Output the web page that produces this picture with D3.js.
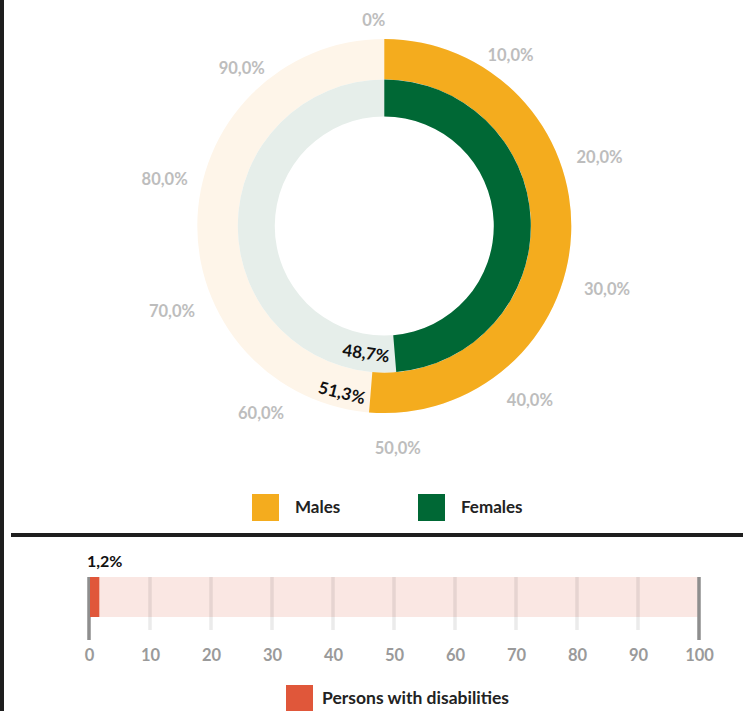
<!DOCTYPE html>
<html>
<head>
<meta charset="utf-8">
<script src="https://cdn.jsdelivr.net/npm/d3@7/dist/d3.min.js"></script>
<style>
  html, body { margin: 0; padding: 0; background: #fff; }
  svg { display: block; }
  text { font-family: Lato, "Open Sans", sans-serif; font-weight: 700; font-style: normal; }
</style>
</head>
<body>
<svg id="chart" width="748" height="711"></svg>
<script>
// ---------- data ----------
const ringSeries = ["Males", "Females"];
const ringValues = [51.3, 48.7];
const ringLabels = ["51,3%", "48,7%"];
const ringColors = ["#F4AC1E", "#006835"];
const ringTrackColors = ["#FEF5E9", "#E6EEEA"];
const angleTicks = [0, 10, 20, 30, 40, 50, 60, 70, 80, 90];
const angleTickLabels = ["0%", "10,0%", "20,0%", "30,0%", "40,0%", "50,0%", "60,0%", "70,0%", "80,0%", "90,0%"];

const barSeries = ["Persons with disabilities"];
const barValues = [1.2];
const barLabels = ["1,2%"];
const barColor = "#E0573A";
const barTrackColor = "#FAE7E3";
const barTicks = [0, 10, 20, 30, 40, 50, 60, 70, 80, 90, 100];
const barTickLabels = ["0", "10", "20", "30", "40", "50", "60", "70", "80", "90", "100"];

// ---------- setup ----------
const svg = d3.select("#chart");

// frame lines
svg.append("rect").attr("x", 0).attr("y", 0).attr("width", 4).attr("height", 711).attr("fill", "#1e1e1e");
svg.append("rect").attr("x", 11).attr("y", 533).attr("width", 732).attr("height", 4).attr("fill", "#1e1e1e");

// ---------- donut ----------
const cx = 384.3, cy = 226;
const rings = [
  { inner: 146.5, outer: 187 },
  { inner: 109.5, outer: 146.5 }
];
const angle = d3.scaleLinear().domain([0, 100]).range([0, 2 * Math.PI]);
const g = svg.append("g").attr("transform", `translate(${cx},${cy})`);

ringValues.forEach((v, i) => {
  const arc = d3.arc().innerRadius(rings[i].inner).outerRadius(rings[i].outer);
  g.append("path")
    .attr("d", arc({ startAngle: 0, endAngle: 2 * Math.PI }))
    .attr("fill", ringTrackColors[i]);
  g.append("path")
    .attr("d", arc({ startAngle: 0, endAngle: angle(v) }))
    .attr("fill", ringColors[i]);
});

// value labels, placed just past arc end, rotated along tangent
ringValues.forEach((v, i) => {
  const rMid = (i === 0 ? rings[i].inner + (rings[i].outer - rings[i].inner) * 0.62 : (rings[i].inner + rings[i].outer) / 2);
  const t = g.append("text")
    .attr("text-anchor", "middle")
    .attr("dominant-baseline", "central")
    .attr("font-size", 17)
    .attr("fill", "#111")
    .text(ringLabels[i]);
  const w = t.node().getComputedTextLength();
  const a = angle(v) + (w / 2 + 5) / rMid;
  const x = rMid * Math.sin(a), y = -rMid * Math.cos(a);
  const deg = a * 180 / Math.PI - 180;
  t.attr("transform", `translate(${x},${y}) rotate(${deg})`);
});

// angular tick labels (placed on a slightly flattened, lowered label ring)
const labelRx = 229, labelRy = 214, labelDy = 8, labelDx = 1.5, labelShift = 3 * Math.PI / 180;
angleTicks.forEach((tv, i) => {
  const a = angle(tv) - labelShift;
  g.append("text")
    .attr("text-anchor", "middle")
    .attr("dominant-baseline", "central")
    .attr("font-size", 16.5)
    .attr("fill", "#BDBDBD")
    .attr("x", labelDx + labelRx * Math.sin(a))
    .attr("y", labelDy - labelRy * Math.cos(a))
    .text(angleTickLabels[i]);
});

// ring legend
const legend1 = [{ x: 252, name: ringSeries[0], color: ringColors[0] }, { x: 418, name: ringSeries[1], color: ringColors[1] }];
legend1.forEach(l => {
  svg.append("rect").attr("x", l.x).attr("y", 494).attr("width", 27).attr("height", 27).attr("fill", l.color);
  svg.append("text").attr("x", l.x + 43).attr("y", 513).attr("font-size", 17).attr("fill", "#222").text(l.name);
});

// ---------- bar ----------
const x = d3.scaleLinear().domain([0, 100]).range([89, 699]);
const barY = 577, barH = 40;

svg.append("rect").attr("x", x(0)).attr("y", barY).attr("width", x(100) - x(0)).attr("height", barH).attr("fill", barTrackColor);

// grid lines
svg.append("g").selectAll("line")
  .data(barTicks)
  .join("line")
  .attr("x1", d => x(d)).attr("x2", d => x(d))
  .attr("y1", barY)
  .attr("y2", d => (d === 0 || d === 100) ? 640 : 630)
  .attr("stroke", d => (d === 0 || d === 100) ? "#8e8e8e" : "rgba(0,0,0,0.08)")
  .attr("stroke-width", 3.5);

svg.append("g").selectAll("rect.val")
  .data(barValues)
  .join("rect")
  .attr("class", "val")
  .attr("x", x(0) + 1)
  .attr("y", barY)
  .attr("width", d => x(d) - x(0) + 2)
  .attr("height", barH)
  .attr("fill", barColor);

svg.append("text").attr("x", x(0) - 2).attr("y", 567).attr("font-size", 16).attr("fill", "#111").text(barLabels[0]);

// axis tick labels
const axis = d3.axisBottom(x).tickValues(barTicks).tickFormat((d, i) => barTickLabels[i]).tickSize(0).tickPadding(0);
const ax = svg.append("g").attr("transform", "translate(0,649)").call(axis);
ax.select(".domain").remove();
ax.selectAll("text")
  .attr("font-family", "Lato, 'Open Sans', sans-serif")
  .attr("font-weight", 700)
  .attr("font-size", 16.5)
  .attr("fill", "#9A9A9A")
  .attr("dy", "0.75em");

// bar legend
svg.append("rect").attr("x", 286).attr("y", 685).attr("width", 27).attr("height", 27).attr("fill", barColor);
svg.append("text").attr("x", 322).attr("y", 704).attr("font-size", 17.5).attr("fill", "#222").text(barSeries[0]);
</script>
</body>
</html>
